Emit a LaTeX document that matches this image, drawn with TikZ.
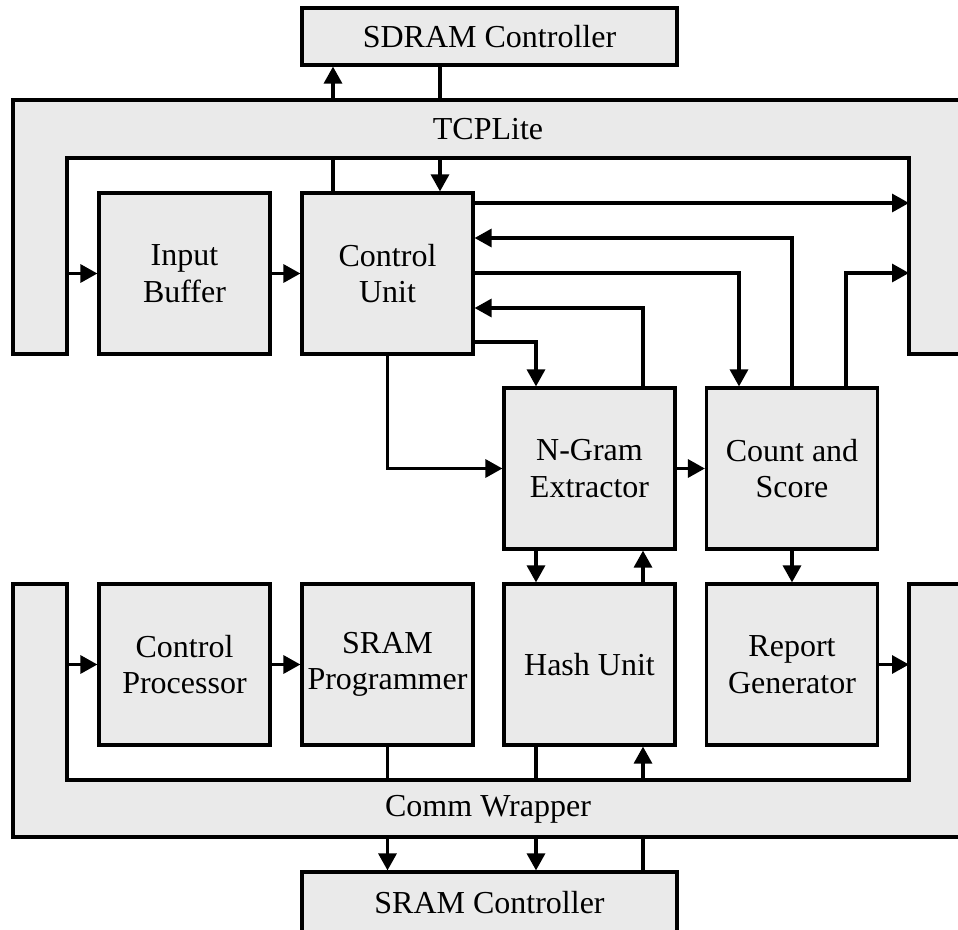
\documentclass[tikz,border=0pt]{standalone}
\usepackage{fontspec}
\setmainfont{Liberation Serif}
\usetikzlibrary{arrows.meta}
\definecolor{blockgray}{RGB}{234,234,234}
\begin{document}
\begin{tikzpicture}[x=1pt,y=-1pt,
  txt/.style={font=\fontsize{32pt}{36.5pt}\selectfont, align=center, inner sep=0pt},
  blk/.style={txt, draw, fill=blockgray, line width=3.2pt, minimum width=171pt, minimum height=161pt},
  wide/.style={txt, draw, fill=blockgray, line width=3.2pt, minimum width=375pt},
  wrap/.style={draw, fill=blockgray, line width=3.2pt, line join=miter},
  ln/.style={draw, line width=3.2pt},
  arr/.style={ln, -{Triangle[length=17pt,width=18pt]}}]
\useasboundingbox (0,0) rectangle (958,929);
\clip (0,0) rectangle (958,929);

% ---- the two bus wrappers ----
\draw[wrap] (13,100) -- (965,100) -- (965,354) -- (909,354) -- (909,158)
  -- (67,158) -- (67,354) -- (13,354) -- cycle;
\node[txt] (tcp) at (488,129) {TCPLite};
\draw[wrap] (13,584) -- (67,584) -- (67,780) -- (909,780) -- (909,584)
  -- (965,584) -- (965,837) -- (13,837) -- cycle;
\node[txt] (comm) at (488,809) {Comm Wrapper};

% edges of the wrappers
\coordinate (tcpOut) at (0,100);
\coordinate (tcpIn)  at (0,158);
\coordinate (innerL) at (67,0);
\coordinate (innerR) at (909,0);
\coordinate (cwIn)   at (0,780);
\coordinate (cwOut)  at (0,837);

% ---- blocks ----
\node[wide, minimum height=57pt] (sdram) at (489.5,36.5) {SDRAM Controller};
\node[wide, minimum height=62pt] (sram)  at (489.5,903)  {SRAM Controller};
\node[blk] (inbuf) at (184.5,273.5) {Input\\Buffer};
\node[blk] (cu)    at (387.5,273.5) {Control\\Unit};
\node[blk] (ngram) at (589.5,468.5) {N-Gram\\Extractor};
\node[blk] (cs)    at (792,468.5)   {Count and\\Score};
\node[blk] (cp)    at (184.5,664.5) {Control\\Processor};
\node[blk] (sp)    at (387.5,664.5) {SRAM\\Programmer};
\node[blk] (hash)  at (589.5,664.5) {Hash Unit};
\node[blk] (rg)    at (792,664.5)   {Report\\Generator};

% tap positions
\coordinate (xA) at (333,0);
\coordinate (xB) at (440,0);
\coordinate (xD) at (536,0);
\coordinate (xE) at (643,0);
\coordinate (xF) at (739,0);
\coordinate (xH) at (846,0);
\coordinate (yA) at (0,203);
\coordinate (yB) at (0,238);
\coordinate (yC) at (0,273);
\coordinate (yD) at (0,308);
\coordinate (yE) at (0,342);

% ---- SDRAM side ----
\draw[arr] (xA |- tcpOut) -- (xA |- sdram.south);
\draw[ln]  (xB |- sdram.south) -- (xB |- tcpOut);
\draw[ln]  (xA |- cu.north) -- (xA |- tcpIn);
\draw[arr] (xB |- tcpIn) -- (xB |- cu.north);

% ---- upper pipeline ----
\draw[arr] (innerL |- inbuf.west) -- (inbuf.west);
\draw[arr] (inbuf.east) -- (cu.west);
\draw[arr] (cu.east |- yA) -- (innerR |- yA);
\draw[arr] (cs.north) -- (cs.north |- yB) -- (cu.east |- yB);
\draw[arr] (cu.east |- yC) -- (xF |- yC) -- (xF |- cs.north);
\draw[arr] (xH |- cs.north) -- (xH |- yC) -- (innerR |- yC);
\draw[arr] (xE |- ngram.north) -- (xE |- yD) -- (cu.east |- yD);
\draw[arr] (cu.east |- yE) -- (xD |- yE) -- (xD |- ngram.north);
\draw[arr] (cu.south) |- (ngram.west);
\draw[arr] (ngram.east) -- (cs.west);
\draw[arr] (xD |- ngram.south) -- (xD |- hash.north);
\draw[arr] (xE |- hash.north) -- (xE |- ngram.south);
\draw[arr] (cs.south) -- (rg.north);

% ---- lower row ----
\draw[arr] (rg.east) -- (innerR |- rg.east);
\draw[arr] (innerL |- cp.west) -- (cp.west);
\draw[arr] (cp.east) -- (sp.west);
\draw[ln]  (sp.south) -- (sp.south |- cwIn);
\draw[ln]  (xD |- hash.south) -- (xD |- cwIn);
\draw[arr] (xE |- cwIn) -- (xE |- hash.south);

% ---- SRAM side ----
\draw[arr] (sp.south |- cwOut) -- (sp.south |- sram.north);
\draw[arr] (xD |- cwOut) -- (xD |- sram.north);
\draw[ln]  (xE |- sram.north) -- (xE |- cwOut);
\end{tikzpicture}
\end{document}
